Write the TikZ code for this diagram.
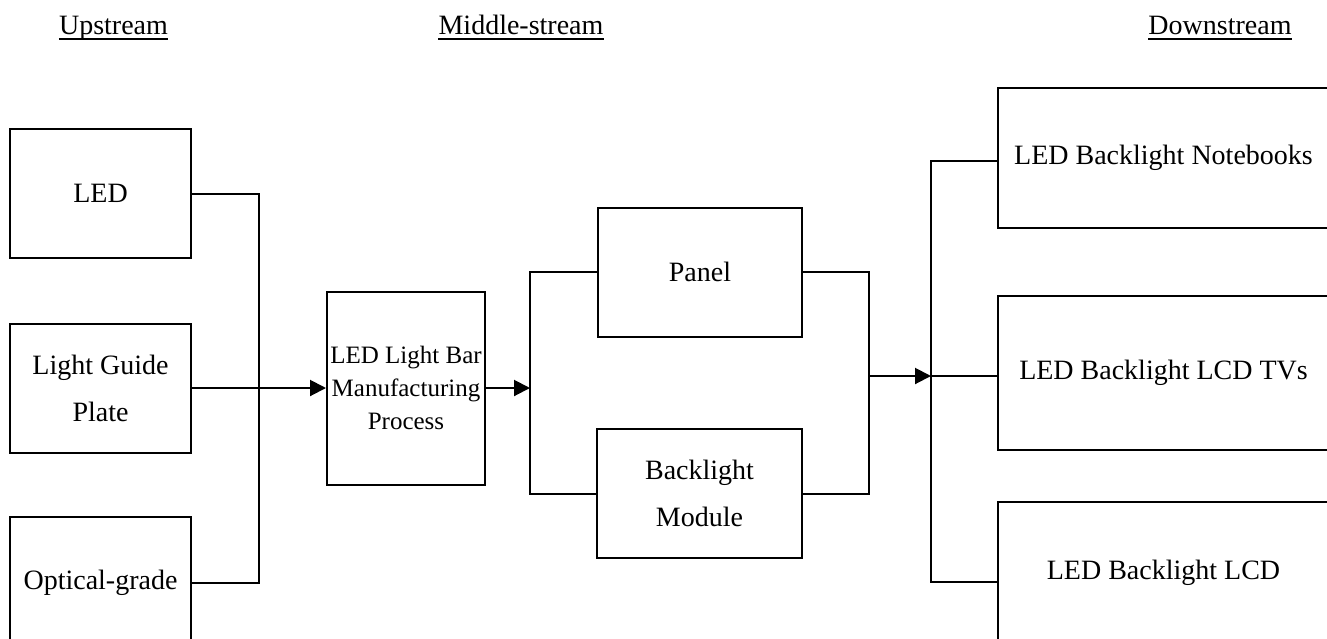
\documentclass[tikz,border=0pt]{standalone}
\usepackage{fontspec}
\setmainfont{Liberation Serif}
\usetikzlibrary{arrows.meta}
\tikzset{
  box/.style={draw, line width=2pt, inner sep=0pt, align=center, font=\fontsize{28}{47}\selectfont},
  smallbox/.style={box, font=\fontsize{25}{33}\selectfont},
  ttl/.style={inner sep=0pt, anchor=base, font=\fontsize{28}{32}\selectfont},
  conn/.style={line width=2pt},
  arr/.style={conn, -{Triangle[length=16pt,width=16pt]}},
  uline/.style={line width=2.2pt},
}
\begin{document}
\begin{tikzpicture}[x=1pt,y=-1pt]
\clip (0,0) rectangle (1327,638);
% titles
\node[ttl] (up) at (113.5,34) {Upstream};
\node[ttl] (mid) at (521,34) {Middle-stream};
\node[ttl] (down) at (1220,34) {Downstream};
\draw[uline] ([yshift=-5pt]up.base west) -- ([yshift=-5pt]up.base east);
\draw[uline] ([yshift=-5pt]mid.base west) -- ([yshift=-5pt]mid.base east);
\draw[uline] ([yshift=-5pt]down.base west) -- ([yshift=-5pt]down.base east);
% upstream boxes
\node[box, minimum width=181pt, minimum height=129pt] (led) at (100.5,193.5) {LED};
\node[box, minimum width=181pt, minimum height=129pt] (lgp) at (100.5,388) {Light Guide\\Plate};
\node[box, minimum width=181pt, minimum height=132pt] (opt) at (100.5,583) {Optical-grade};
% middle
\node[smallbox, minimum width=158pt, minimum height=193pt] (bar) at (406,388) {LED Light Bar\\Manufacturing\\Process};
\node[box, minimum width=204pt, minimum height=129pt] (panel) at (700,272) {Panel};
\node[box, minimum width=205pt, minimum height=129pt] (blm) at (699.5,493.5) {Backlight\\Module};
% downstream
\node[box, minimum width=331pt, minimum height=140pt] (nb) at (1163.5,158) {LED Backlight Notebooks};
\node[box, minimum width=331pt, minimum height=154pt] (tv) at (1163.5,373) {LED Backlight LCD TVs};
\node[box, minimum width=331pt, minimum height=142pt] (lcd) at (1163.5,573) {LED Backlight LCD};
% junction coordinates
\coordinate (j1) at (259,388);
\coordinate (j2) at (530,388);
\coordinate (j3) at (869,376);
\coordinate (j4) at (931,376);
% upstream connectors
\draw[conn] (led.east) -| (j1) |- (opt.east);
\draw[arr] (lgp.east) -- (bar.west);
% middle connectors
\draw[arr] (bar.east) -- (j2);
\draw[conn] (panel.west) -| (j2) |- (blm.west);
\draw[conn] (panel.east) -| (j3) |- (blm.east);
\draw[arr] (j3) -- (j4);
% downstream connectors
\draw[conn] ([yshift=-3pt]nb.west) -| (j4) |- ([yshift=-9pt]lcd.west);
\draw[conn] (j4) -- (j4 -| tv.west);
\end{tikzpicture}
\end{document}
